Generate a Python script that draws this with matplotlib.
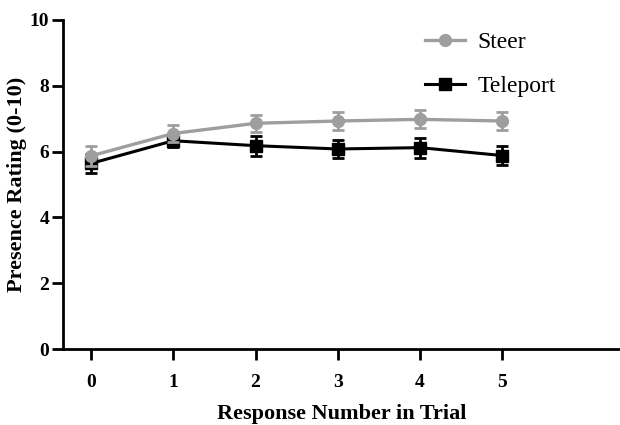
import matplotlib
matplotlib.use("Agg")
from matplotlib import pyplot as plt

# Data
responses = [0, 1, 2, 3, 4, 5]
steer = [5.87, 6.55, 6.86, 6.93, 6.98, 6.93]
steer_err = [0.30, 0.25, 0.25, 0.27, 0.27, 0.27]
teleport = [5.64, 6.33, 6.18, 6.08, 6.12, 5.88]
teleport_err = [0.28, 0.20, 0.30, 0.28, 0.30, 0.30]

plt.rcParams['font.family'] = ['Liberation Serif', 'DejaVu Serif']

fig = plt.figure(figsize=(6.2, 4.25), dpi=100)
ax = fig.add_axes([63 / 620, 1 - 349 / 425, 1 - 63 / 620, (349 - 20) / 425])

ax.errorbar(responses, teleport, yerr=teleport_err, color='black', marker='s',
            markersize=8, linewidth=2.2, capsize=4.5, capthick=2, elinewidth=2,
            label='Teleport', zorder=2)
ax.errorbar(responses, steer, yerr=steer_err, color='#9e9e9e', marker='o',
            markersize=8.5, linewidth=2.4, capsize=4.5, capthick=2, elinewidth=2,
            label='Steer', zorder=3)

ax.set_xlim(-0.34, 6.43)
ax.set_ylim(0, 10)
ax.set_xticks(responses)
ax.set_yticks([0, 2, 4, 6, 8, 10])

for side in ['top', 'right']:
    ax.spines[side].set_visible(False)
for side in ['left', 'bottom']:
    ax.spines[side].set_linewidth(2)
ax.tick_params(width=2, length=8, labelsize=14)
ax.tick_params(axis='x', pad=10)
ax.tick_params(axis='y', pad=2)
for lab in ax.get_xticklabels() + ax.get_yticklabels():
    lab.set_fontweight('bold')

ax.set_xlabel('Response Number in Trial', fontsize=16, fontweight='bold', labelpad=9)
ax.set_ylabel('Presence Rating (0-10)', fontsize=16, fontweight='bold', labelpad=2)

# legend shows only line + marker, no error bars
handles, labels = ax.get_legend_handles_labels()
handles = [h[0] for h in handles]
ax.legend(handles[::-1], labels[::-1], loc='upper left', bbox_to_anchor=(0.612, 1.03),
          frameon=False, fontsize=17, handlelength=1.7, labelspacing=0.95,
          handletextpad=0.5)

fig.savefig('out.png', dpi=100)
